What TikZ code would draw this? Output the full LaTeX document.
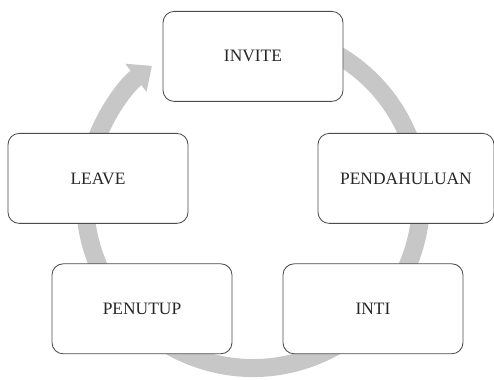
\documentclass[tikz,border=0pt]{standalone}
\usepackage{fontspec}
\setmainfont{Liberation Serif}
\usetikzlibrary{arrows.meta}
\begin{document}
\begin{tikzpicture}[
    box/.style={rectangle, draw=black!70, line width=0.6pt, rounded corners=0.28cm, fill=white, minimum width=4.5cm, minimum height=2.25cm, align=center, font=\fontsize{12.4}{14}\selectfont, text=black!85},
    ring/.style={line width=0.45cm, draw=black!22, -{Triangle[width=0.85cm,length=0.5cm]}}
]
    \useasboundingbox (0,0) rectangle (12.35,-9.5);

    % Ciclo
    \coordinate (hub) at (6.325,-5.0);
    \draw[ring] (hub) ++(70:4.2) arc[start angle=70, end angle=-233, radius=4.2];

    % Tahapan
    \node[box] (invite) at (6.325,-1.41) {INVITE};
    \node[box, minimum width=4.4cm] (pendahuluan) at (10.15,-4.46) {PENDAHULUAN};
    \node[box] (inti) at (9.325,-7.72) {INTI};
    \node[box] (penutup) at (3.55,-7.72) {PENUTUP};
    \node[box] (leave) at (2.45,-4.46) {LEAVE};
\end{tikzpicture}
\end{document}
